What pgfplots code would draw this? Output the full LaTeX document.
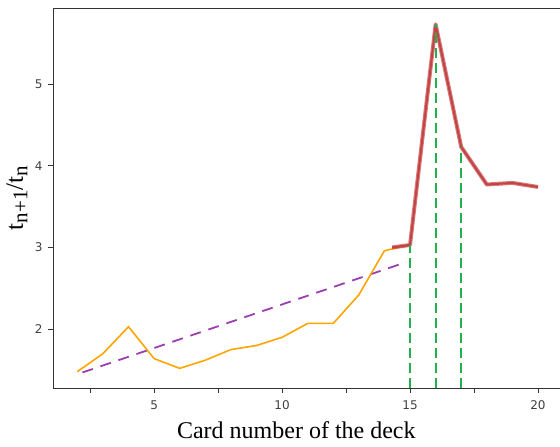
\documentclass[border=0pt]{standalone}
\usepackage{pgfplots}
\pgfplotsset{compat=1.18}
\usepackage{fontspec}
\setmainfont{Liberation Serif}
\newfontfamily\ticksfont{DejaVu Sans}
\definecolor{cOrange}{HTML}{FFA500}
\definecolor{cPurple}{HTML}{9B3FAE}
\definecolor{cGreen}{HTML}{22B24C}
\definecolor{cRed}{HTML}{D24A4A}
\definecolor{cRedDark}{HTML}{B83A3A}
\definecolor{cSpine}{HTML}{333333}
\begin{document}
\begin{tikzpicture}
\begin{axis}[
  name=ax,
  scale only axis,
  width=507pt, height=380pt,
  xmin=1.05, xmax=20.86,
  ymin=1.28, ymax=5.93,
  axis x line*=bottom, axis y line*=left,
  axis line style={cSpine, line width=0.9pt, -},
  xtick={5,10,15,20},
  minor xtick={2.5,7.5,12.5,17.5},
  ytick={2,3,4,5},
  tick align=outside,
  major tick length=5pt, minor tick length=5pt,
  tick style={cSpine, line width=0.7pt},
  ticklabel style={font=\ticksfont\fontsize{12}{12}\selectfont, text=black!75},
  /pgf/number format/assume math mode=true,
  xticklabel style={yshift=-4pt},
  yticklabel style={xshift=-2pt},
  xlabel={\fontsize{24}{24}\selectfont Card number of the deck},
  xlabel style={at={(axis description cs:0.48,0)}, anchor=north, yshift=-30pt},
  ylabel={\fontsize{25}{25}\selectfont t\raisebox{-0.4ex}{\fontsize{21}{21}\selectfont n+1}/t\raisebox{-0.4ex}{\fontsize{21}{21}\selectfont n}},
  ylabel style={at={(axis description cs:0,0.5)}, anchor=south, yshift=22pt},
  clip=false,
]
\draw[cSpine, line width=0.9pt] (rel axis cs:0,1) -- (rel axis cs:1,1);
% trend line
\addplot[cPurple, line width=1.8pt, dash pattern=on 11pt off 8pt] coordinates {(2.2,1.47) (14.85,2.82)};
% orange series
\addplot[cOrange, line width=1.6pt] coordinates {
(2,1.48) (3,1.70) (4,2.03) (5,1.64) (6,1.52) (7,1.62) (8,1.75) (9,1.80)
(10,1.90) (11,2.07) (12,2.07) (13,2.42) (14,2.96) (15,3.03)};
% red series
\addplot[cRed, opacity=0.75, line width=4pt, line join=round] coordinates {
(14.3,3.00) (15,3.03) (16,5.73) (17,4.23) (18,3.77) (19,3.79) (20,3.74)};
\addplot[cRedDark, opacity=0.8, line width=2pt, line join=round] coordinates {
(14.3,3.00) (15,3.03) (16,5.73) (17,4.23) (18,3.77) (19,3.79) (20,3.74)};
% green verticals
\addplot[cGreen, line width=2pt, dash pattern=on 10pt off 5pt] coordinates {(15,1.28) (15,3.03)};
\addplot[cGreen, line width=2pt, dash pattern=on 10pt off 5pt] coordinates {(16,1.28) (16,5.73)};
\addplot[cGreen, line width=2pt, dash pattern=on 10pt off 5pt] coordinates {(17,1.28) (17,4.23)};
\end{axis}
\pgfresetboundingbox
\path[use as bounding box] ([shift={(-53pt,-59pt)}]ax.south west) rectangle ([shift={(0pt,8pt)}]ax.north east);
\end{tikzpicture}
\end{document}
